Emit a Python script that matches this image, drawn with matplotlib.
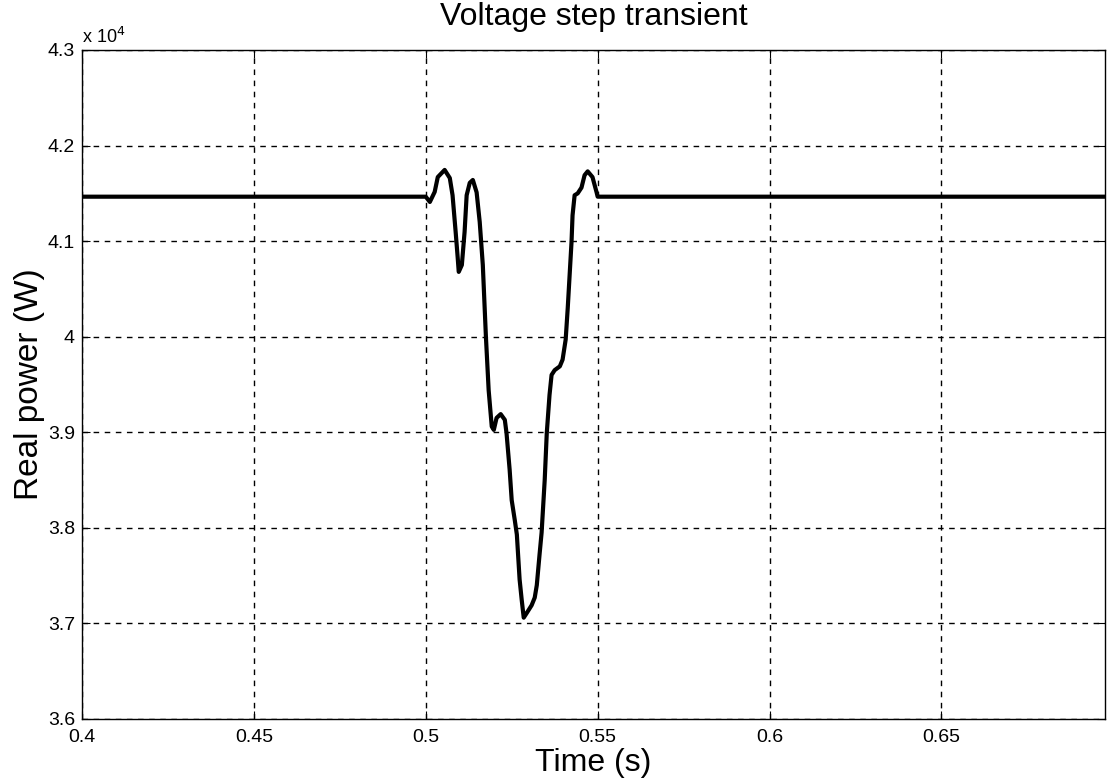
import matplotlib.pyplot as plt
from matplotlib.ticker import FuncFormatter

# time (s) and real power (W)
time_s = [0.4, 0.5, 0.5012, 0.5026, 0.5035, 0.5055, 0.5070, 0.5078, 0.5087,
          0.5093, 0.5096, 0.5105, 0.5113, 0.5119, 0.5128, 0.5137, 0.5148,
          0.5157, 0.5166, 0.5175, 0.5183, 0.5192, 0.5198, 0.5206, 0.5218,
          0.5230, 0.5235, 0.5244, 0.5250, 0.5259, 0.5265, 0.5273, 0.5279,
          0.5285, 0.5294, 0.5308, 0.5317, 0.5323, 0.5331, 0.5337, 0.5346,
          0.5352, 0.5360, 0.5366, 0.5375, 0.5390, 0.5398, 0.5407, 0.5413,
          0.5424, 0.5427, 0.5433, 0.5442, 0.5453, 0.5462, 0.5471, 0.5485,
          0.5497, 0.5500, 0.6975]
power_w = [41465, 41465, 41410, 41515, 41670, 41745, 41660, 41480, 41096,
           40824, 40678, 40750, 41096, 41480, 41610, 41640, 41510,
           41200, 40750, 40000, 39440, 39060, 39025, 39150, 39190,
           39130, 38990, 38610, 38290, 38080, 37930, 37460, 37250,
           37060, 37110, 37190, 37270, 37400, 37720, 37950, 38500,
           38990, 39390, 39600, 39650, 39690, 39760, 39970, 40300,
           40990, 41270, 41480, 41500, 41560, 41690, 41730, 41670,
           41510, 41465, 41465]

x_ticks = [0.4, 0.45, 0.5, 0.55, 0.6, 0.65]
y_ticks = [36000, 37000, 38000, 39000, 40000, 41000, 42000, 43000]


def main():
    plt.rcParams["font.family"] = ["Liberation Sans", "DejaVu Sans"]
    fig = plt.figure(figsize=(11.07, 7.81), dpi=100)
    ax = fig.add_axes([0.074, 0.0794, 0.924, 0.8566])

    ax.plot(time_s, power_w, color="black", linewidth=3.0,
            solid_joinstyle="round")

    ax.set_xlim(0.4, 0.6975)
    ax.set_ylim(36000, 43000)
    ax.set_xticks(x_ticks)
    ax.set_yticks(y_ticks)
    ax.xaxis.set_major_formatter(FuncFormatter(lambda v, p: f"{v:g}"))
    ax.yaxis.set_major_formatter(FuncFormatter(lambda v, p: f"{v / 1e4:g}"))
    ax.tick_params(direction="in", top=True, right=True, labelsize=14,
                   length=6)
    ax.tick_params(axis="x", pad=7)
    ax.tick_params(axis="y", pad=5)
    ax.grid(True, color="black", linestyle=(0, (4, 4)), linewidth=1.0)
    for s in ax.spines.values():
        s.set_linewidth(1.0)

    ax.text(0.0, 1.005, "x 10$^{4}$", transform=ax.transAxes, fontsize=13,
            ha="left", va="bottom")
    ax.set_title("Voltage step transient", fontsize=23, pad=18)
    ax.set_xlabel("Time (s)", fontsize=23, labelpad=2)
    ax.set_ylabel("Real power (W)", fontsize=24, labelpad=2)

    fig.savefig("out.png", dpi=100)
    return 0


if __name__ == "__main__":
    main()
